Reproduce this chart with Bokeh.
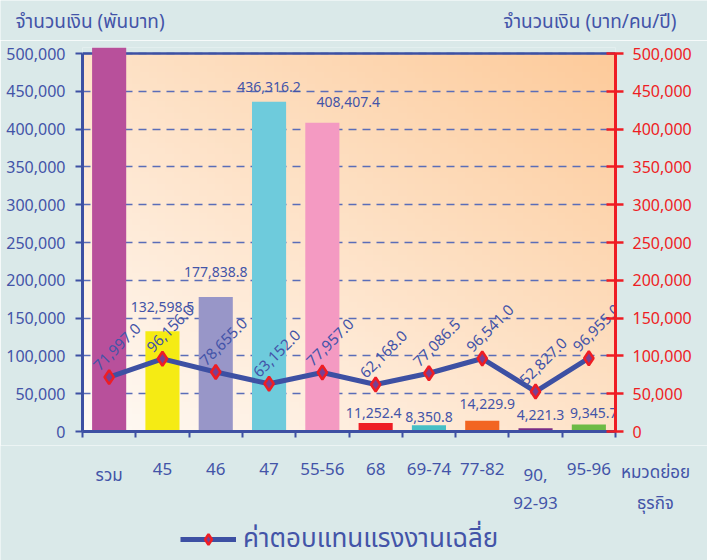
import numpy as np
from bokeh.plotting import figure
from bokeh.layouts import column
from bokeh.models import (ColumnDataSource, LinearAxis, FixedTicker,
                          Span, Legend, LegendItem, NumeralTickFormatter, Range1d)
from bokeh.core.properties import value
from bokeh.embed import file_html
from bokeh.resources import INLINE

# ---------------- data ----------------
categories = ["รวม", "45", "46", "47", "55-56", "68", "69-74", "77-82", "90,\n92-93", "95-96"]
amounts = [1202561.0, 132598.5, 177838.8, 436316.2, 408407.4, 11252.4, 8350.8, 14229.9, 4221.3, 9345.7]
wages = [71997.0, 96156.0, 78655.0, 63152.0, 77957.0, 62168.0, 77086.5, 96541.0, 52827.0, 96955.0]
y_ticks = [0, 50000, 100000, 150000, 200000, 250000, 300000, 350000, 400000, 450000, 500000]
left_title = "จำนวนเงิน (พันบาท)"
right_title = "จำนวนเงิน (บาท/คน/ปี)"
x_title = "หมวดย่อย\nธุรกิจ"
legend_label = "ค่าตอบแทนแรงงานเฉลี่ย"

# ---------------- style ----------------
bar_colors = ["#B8509B", "#F5EB14", "#9896C8", "#6ECBDC", "#F49AC2",
              "#EE1D24", "#45BFC6", "#F26522", "#7A2C86", "#6DBB45"]
bar_lbl_dx = [0, 0, 0, 0, 26, -2, 0, 5, 5, 5]
bar_lbl_dy = [24, 24, 25, 15, 21, 10, 8, 17, 13, 11]
FONT = "Tahoma, 'Noto Sans Thai', 'Noto Sans Thai UI', 'Liberation Sans', sans-serif"
BLUE = "#3D50A3"
TXT = "#4354A8"
RED = "#EE1D24"
PAGE = "#DAE9E9"
MARK_FILL = "#7B3F91"
W = 707
FRAME_L, FRAME_R = 82, 615          # frame edges (px)
HEAD_H = 40
MAIN_TOP, MAIN_BOT = 7, 14
FRAME_H = 384
FOOT_H = 560 - HEAD_H - (MAIN_TOP + FRAME_H + MAIN_BOT)
Y_MAX = 500000
Y_TOP = Y_MAX * FRAME_H / 378       # bar of the total pokes a little above the top line

n = len(categories)
xs = list(range(n))


def bare(fig):
    fig.background_fill_color = PAGE
    fig.border_fill_color = PAGE
    fig.outline_line_color = None
    fig.frame_align = False
    for g in fig.grid:
        g.visible = False


# ---------------- header (axis titles) ----------------
head = figure(width=W, height=HEAD_H, output_backend="svg", toolbar_location=None,
              x_range=Range1d(0, W), y_range=Range1d(0, HEAD_H), min_border=0,
              x_axis_location=None, y_axis_location=None)
bare(head)
head.text(x=[15], y=[HEAD_H - 22], text=[left_title], text_align="left", text_baseline="middle",
          text_color=TXT, text_font=value(FONT), text_font_size="19px")
head.text(x=[676], y=[HEAD_H - 22], text=[right_title], text_align="right", text_baseline="middle",
          text_color=TXT, text_font=value(FONT), text_font_size="19px")

# ---------------- main chart ----------------
p = figure(width=W, height=MAIN_TOP + FRAME_H + MAIN_BOT, output_backend="svg",
           toolbar_location=None,
           x_range=Range1d(-0.5, n - 0.5), y_range=Range1d(0, Y_TOP),
           min_border_left=FRAME_L, min_border_right=W - FRAME_R, min_border_top=MAIN_TOP,
           min_border_bottom=MAIN_BOT, x_axis_location=None, y_axis_location=None)
p.background_fill_color = PAGE
p.border_fill_color = PAGE
p.outline_line_color = None
p.frame_align = False

# gradient fill of the plot area
nx, ny = 64, 64
u = np.linspace(0, 1, nx)[None, :]
v = np.linspace(0, 1, ny)[:, None]
t = (u + v) / 2
c0 = np.array([255, 250, 245], dtype=float)
c1 = np.array([253, 203, 155], dtype=float)
img = np.empty((ny, nx), dtype=np.uint32)
view = img.view(dtype=np.uint8).reshape((ny, nx, 4))
for k in range(3):
    view[:, :, k] = (c0[k] + (c1[k] - c0[k]) * t).astype(np.uint8)
view[:, :, 3] = 255
p.image_rgba(image=[img], x=-0.5, y=0, dw=n, dh=Y_MAX, level="image")

p.xgrid.visible = False
p.ygrid.ticker = FixedTicker(ticks=y_ticks)
p.ygrid.grid_line_color = "#5A6DB8"
p.ygrid.grid_line_width = 1.5
p.ygrid.grid_line_dash = "8 6"
p.add_layout(Span(location=Y_MAX, dimension="width", line_color=BLUE,
                  line_width=2.5, level="underlay"))

left = LinearAxis(ticker=FixedTicker(ticks=y_ticks), bounds=(0, Y_MAX),
                  formatter=NumeralTickFormatter(format="0,0"))
left.axis_line_color = BLUE
left.axis_line_width = 3
left.major_tick_line_color = BLUE
left.major_tick_line_width = 2
left.major_tick_out = 7
left.major_tick_in = 0
left.minor_tick_line_color = None
left.major_label_text_color = TXT
left.major_label_text_font = FONT
left.major_label_text_font_size = "16px"
left.major_label_standoff = 10
p.add_layout(left, "left")

right = LinearAxis(ticker=FixedTicker(ticks=y_ticks), bounds=(0, Y_MAX),
                   formatter=NumeralTickFormatter(format="0,0"))
right.axis_line_color = RED
right.axis_line_width = 3
right.major_tick_line_color = RED
right.major_tick_line_width = 2.5
right.major_tick_out = 8
right.major_tick_in = 9
right.minor_tick_line_color = None
right.major_label_text_color = RED
right.major_label_text_font = FONT
right.major_label_text_font_size = "16px"
right.major_label_standoff = 9
p.add_layout(right, "right")

bottom = LinearAxis(ticker=FixedTicker(ticks=[i - 0.5 for i in range(n + 1)]))
bottom.axis_line_color = BLUE
bottom.axis_line_width = 3
bottom.major_tick_line_color = BLUE
bottom.major_tick_line_width = 2
bottom.major_tick_out = 6
bottom.major_tick_in = 0
bottom.minor_tick_line_color = None
bottom.major_label_text_color = None
bottom.major_label_text_font_size = "1px"
bottom.major_label_standoff = 0
p.add_layout(bottom, "below")

src = ColumnDataSource(dict(
    x=xs, top=amounts, color=bar_colors,
    lbl=[f"{a:,.1f}" if a <= Y_MAX else "" for a in amounts],
    dx=bar_lbl_dx, dy=[-d for d in bar_lbl_dy],
))
p.vbar(x="x", top="top", width=0.64, fill_color="color", line_color=None, source=src)
p.text(x="x", y="top", text="lbl", x_offset="dx", y_offset="dy", source=src,
       text_align="center", text_baseline="middle", text_color=TXT,
       text_font=value(FONT), text_font_size="14px")

lsrc = ColumnDataSource(dict(x=xs, y=wages, lbl=[f"{w:,.1f}" for w in wages]))
line_style = dict(line_color=BLUE, line_width=5)
mark_style = dict(marker="diamond", size=14, fill_color=MARK_FILL, line_color=RED, line_width=2.5)
p.line(x="x", y="y", source=lsrc, **line_style)
p.scatter(x="x", y="y", source=lsrc, **mark_style)
p.text(x="x", y="y", text="lbl", source=lsrc, angle=np.pi / 4,
       x_offset=8, y_offset=-30, text_align="center", text_baseline="middle",
       text_color=TXT, text_font=value(FONT), text_font_size="15px")

# ---------------- footer (category labels, x title, legend) ----------------
unit = (FRAME_R - FRAME_L) / n
foot = figure(width=W, height=FOOT_H, output_backend="svg", toolbar_location=None,
              x_range=Range1d(-0.5 - FRAME_L / unit, n - 0.5 + (W - FRAME_R) / unit),
              y_range=Range1d(0, FOOT_H), min_border=0,
              x_axis_location=None, y_axis_location=None)
bare(foot)
LBL_TOP = FOOT_H - 17
foot.text(x=xs, y=[LBL_TOP] * n, text=categories, text_align="center", text_baseline="top",
          text_color=TXT, text_font=value(FONT), text_font_size="17px", text_line_height=1.1)
foot.text(x=[n - 0.5 + 40 / unit], y=[LBL_TOP + 3], text=[x_title], text_align="center",
          text_baseline="top", text_color=TXT, text_font=value(FONT), text_font_size="17px",
          text_line_height=1.2)
nan = np.array([np.nan])
lg_line = foot.line(x=nan, y=nan, **line_style)
lg_mark = foot.scatter(x=nan, y=nan, **mark_style)
legend = Legend(items=[LegendItem(label=legend_label, renderers=[lg_line, lg_mark])],
                location=(180, 1))
legend.background_fill_alpha = 0
legend.border_line_color = None
legend.padding = 0
legend.margin = 0
legend.glyph_width = 56
legend.glyph_height = 26
legend.label_height = 26
legend.label_standoff = 7
legend.label_text_font = FONT
legend.label_text_font_size = "26px"
legend.label_text_color = TXT
foot.add_layout(legend)

layout = column(head, p, foot, spacing=0)
open("out.html", "w").write(file_html(layout, INLINE))
